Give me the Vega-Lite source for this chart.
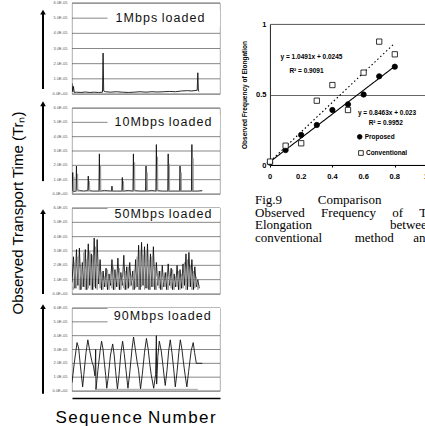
{
"$schema":"https://vega.github.io/schema/vega-lite/v6.json",
"background":"white",
"padding":{"left":10,"top":0,"right":0,"bottom":0},
"config":{"view":{"stroke":"#999","strokeWidth":0.8},"font":"Liberation Sans"},
"datasets":{
"grid":[{"g":0},{"g":1},{"g":2},{"g":3},{"g":4},{"g":5},{"g":6}],
"ts":[
{"p":"1","k":"a","s":0,"v":0.7},{"p":"1","k":"a","s":0.5,"v":0.15},{"p":"1","k":"a","s":1,"v":0.5},{"p":"1","k":"a","s":1.5,"v":0.1},{"p":"1","k":"a","s":3,"v":0.12},{"p":"1","k":"a","s":6,"v":0.1},{"p":"1","k":"a","s":9,"v":0.13},{"p":"1","k":"a","s":12,"v":0.1},{"p":"1","k":"a","s":15,"v":0.12},{"p":"1","k":"a","s":18,"v":0.1},{"p":"1","k":"a","s":20.6,"v":0.12},{"p":"1","k":"a","s":21,"v":2.7},{"p":"1","k":"a","s":21.4,"v":0.2},{"p":"1","k":"a","s":22.5,"v":0.15},{"p":"1","k":"a","s":26,"v":0.12},{"p":"1","k":"a","s":30,"v":0.15},{"p":"1","k":"a","s":34,"v":0.12},{"p":"1","k":"a","s":38,"v":0.1},{"p":"1","k":"a","s":42,"v":0.12},{"p":"1","k":"a","s":46,"v":0.15},{"p":"1","k":"a","s":50,"v":0.12},{"p":"1","k":"a","s":54,"v":0.15},{"p":"1","k":"a","s":58,"v":0.13},{"p":"1","k":"a","s":62,"v":0.15},{"p":"1","k":"a","s":66,"v":0.17},{"p":"1","k":"a","s":70,"v":0.15},{"p":"1","k":"a","s":74,"v":0.2},{"p":"1","k":"a","s":78,"v":0.22},{"p":"1","k":"a","s":81,"v":0.2},{"p":"1","k":"a","s":84.6,"v":0.25},{"p":"1","k":"a","s":85,"v":1.4},{"p":"1","k":"a","s":85.4,"v":0.2},{"p":"1","k":"a","s":86,"v":0.15},
{"p":"10","k":"a","s":0,"v":0.1},{"p":"10","k":"a","s":0.5,"v":1.5},{"p":"10","k":"a","s":0.8,"v":0.15},{"p":"10","k":"a","s":2.7,"v":0.2},{"p":"10","k":"a","s":3,"v":1.95},{"p":"10","k":"a","s":3.3,"v":0.3},{"p":"10","k":"a","s":5,"v":0.25},{"p":"10","k":"a","s":8,"v":0.2},{"p":"10","k":"a","s":10.7,"v":0.25},{"p":"10","k":"a","s":11,"v":1.25},{"p":"10","k":"a","s":11.3,"v":0.25},{"p":"10","k":"a","s":14,"v":0.2},{"p":"10","k":"a","s":18.2,"v":0.2},{"p":"10","k":"a","s":18.5,"v":2.8},{"p":"10","k":"a","s":18.8,"v":0.2},{"p":"10","k":"a","s":22,"v":0.25},{"p":"10","k":"a","s":26.7,"v":0.2},{"p":"10","k":"a","s":27,"v":0.55},{"p":"10","k":"a","s":27.3,"v":0.2},{"p":"10","k":"a","s":30,"v":0.2},{"p":"10","k":"a","s":33.7,"v":0.2},{"p":"10","k":"a","s":34,"v":1.15},{"p":"10","k":"a","s":34.3,"v":0.2},{"p":"10","k":"a","s":38,"v":0.25},{"p":"10","k":"a","s":41.2,"v":0.2},{"p":"10","k":"a","s":41.5,"v":2.8},{"p":"10","k":"a","s":41.8,"v":0.25},{"p":"10","k":"a","s":46,"v":0.2},{"p":"10","k":"a","s":49.7,"v":0.2},{"p":"10","k":"a","s":50,"v":1.95},{"p":"10","k":"a","s":50.3,"v":0.2},{"p":"10","k":"a","s":54,"v":0.25},{"p":"10","k":"a","s":56.7,"v":0.2},{"p":"10","k":"a","s":57,"v":3.45},{"p":"10","k":"a","s":57.3,"v":0.25},{"p":"10","k":"a","s":61,"v":0.2},{"p":"10","k":"a","s":64.7,"v":0.2},{"p":"10","k":"a","s":65,"v":2.8},{"p":"10","k":"a","s":65.3,"v":0.2},{"p":"10","k":"a","s":69,"v":0.2},{"p":"10","k":"a","s":72.7,"v":0.2},{"p":"10","k":"a","s":73,"v":1.95},{"p":"10","k":"a","s":73.3,"v":0.2},{"p":"10","k":"a","s":77,"v":0.2},{"p":"10","k":"a","s":80.7,"v":0.2},{"p":"10","k":"a","s":81,"v":3.45},{"p":"10","k":"a","s":81.3,"v":0.2},{"p":"10","k":"a","s":85,"v":0.2},{"p":"10","k":"a","s":88,"v":0.25},
{"p":"10","k":"b","s":0,"v":0.15},{"p":"10","k":"b","s":1.1,"v":0.2},{"p":"10","k":"b","s":1.3,"v":1.2},{"p":"10","k":"b","s":1.5,"v":0.2},{"p":"10","k":"b","s":3.6,"v":0.2},{"p":"10","k":"b","s":3.8,"v":1.4},{"p":"10","k":"b","s":4,"v":0.2},{"p":"10","k":"b","s":11.6,"v":0.2},{"p":"10","k":"b","s":11.8,"v":0.9},{"p":"10","k":"b","s":12,"v":0.2},{"p":"10","k":"b","s":19.1,"v":0.2},{"p":"10","k":"b","s":19.3,"v":2.0},{"p":"10","k":"b","s":19.5,"v":0.2},{"p":"10","k":"b","s":34.6,"v":0.2},{"p":"10","k":"b","s":34.8,"v":0.9},{"p":"10","k":"b","s":35,"v":0.2},{"p":"10","k":"b","s":42.1,"v":0.2},{"p":"10","k":"b","s":42.3,"v":2.2},{"p":"10","k":"b","s":42.5,"v":0.2},{"p":"10","k":"b","s":50.6,"v":0.2},{"p":"10","k":"b","s":50.8,"v":1.5},{"p":"10","k":"b","s":51,"v":0.2},{"p":"10","k":"b","s":57.6,"v":0.2},{"p":"10","k":"b","s":57.8,"v":2.6},{"p":"10","k":"b","s":58,"v":0.2},{"p":"10","k":"b","s":65.6,"v":0.2},{"p":"10","k":"b","s":65.8,"v":2.1},{"p":"10","k":"b","s":66,"v":0.2},{"p":"10","k":"b","s":73.6,"v":0.2},{"p":"10","k":"b","s":73.8,"v":1.5},{"p":"10","k":"b","s":74,"v":0.2},{"p":"10","k":"b","s":81.6,"v":0.2},{"p":"10","k":"b","s":81.8,"v":2.5},{"p":"10","k":"b","s":82,"v":0.2},{"p":"10","k":"b","s":88,"v":0.2},
{"p":"50","k":"a","s":0,"v":0.8},{"p":"50","k":"a","s":1,"v":2.6},{"p":"50","k":"a","s":2,"v":0.4},{"p":"50","k":"a","s":3,"v":3.1},{"p":"50","k":"a","s":4,"v":0.6},{"p":"50","k":"a","s":5,"v":3.2},{"p":"50","k":"a","s":6,"v":0.3},{"p":"50","k":"a","s":7,"v":2.2},{"p":"50","k":"a","s":8,"v":0.5},{"p":"50","k":"a","s":9,"v":3.1},{"p":"50","k":"a","s":10,"v":0.3},{"p":"50","k":"a","s":11,"v":3.5},{"p":"50","k":"a","s":12,"v":0.6},{"p":"50","k":"a","s":13,"v":2.8},{"p":"50","k":"a","s":14,"v":0.3},{"p":"50","k":"a","s":15,"v":3.9},{"p":"50","k":"a","s":16,"v":0.4},{"p":"50","k":"a","s":17,"v":3.8},{"p":"50","k":"a","s":18,"v":0.7},{"p":"50","k":"a","s":19,"v":2.4},{"p":"50","k":"a","s":20,"v":0.3},{"p":"50","k":"a","s":21,"v":1.6},{"p":"50","k":"a","s":22,"v":0.5},{"p":"50","k":"a","s":23,"v":1.8},{"p":"50","k":"a","s":24,"v":0.3},{"p":"50","k":"a","s":25,"v":1.4},{"p":"50","k":"a","s":26,"v":0.6},{"p":"50","k":"a","s":27,"v":2.4},{"p":"50","k":"a","s":28,"v":0.3},{"p":"50","k":"a","s":29,"v":1.7},{"p":"50","k":"a","s":30,"v":0.5},{"p":"50","k":"a","s":31,"v":2.5},{"p":"50","k":"a","s":32,"v":0.3},{"p":"50","k":"a","s":33,"v":1.5},{"p":"50","k":"a","s":34,"v":0.6},{"p":"50","k":"a","s":35,"v":2.7},{"p":"50","k":"a","s":36,"v":0.3},{"p":"50","k":"a","s":37,"v":1.9},{"p":"50","k":"a","s":38,"v":0.4},{"p":"50","k":"a","s":39,"v":2.2},{"p":"50","k":"a","s":40,"v":0.6},{"p":"50","k":"a","s":41,"v":1.6},{"p":"50","k":"a","s":42,"v":0.3},{"p":"50","k":"a","s":43,"v":2.4},{"p":"50","k":"a","s":44,"v":0.5},{"p":"50","k":"a","s":45,"v":3.4},{"p":"50","k":"a","s":46,"v":0.3},{"p":"50","k":"a","s":47,"v":3.6},{"p":"50","k":"a","s":48,"v":0.6},{"p":"50","k":"a","s":49,"v":3.3},{"p":"50","k":"a","s":50,"v":0.4},{"p":"50","k":"a","s":51,"v":3.5},{"p":"50","k":"a","s":52,"v":0.3},{"p":"50","k":"a","s":53,"v":2.8},{"p":"50","k":"a","s":54,"v":0.5},{"p":"50","k":"a","s":55,"v":3.3},{"p":"50","k":"a","s":56,"v":0.3},{"p":"50","k":"a","s":57,"v":2.2},{"p":"50","k":"a","s":58,"v":0.6},{"p":"50","k":"a","s":59,"v":1.6},{"p":"50","k":"a","s":60,"v":0.3},{"p":"50","k":"a","s":61,"v":2.0},{"p":"50","k":"a","s":62,"v":0.5},{"p":"50","k":"a","s":63,"v":1.5},{"p":"50","k":"a","s":64,"v":0.3},{"p":"50","k":"a","s":65,"v":2.1},{"p":"50","k":"a","s":66,"v":0.6},{"p":"50","k":"a","s":67,"v":1.8},{"p":"50","k":"a","s":68,"v":0.3},{"p":"50","k":"a","s":69,"v":1.4},{"p":"50","k":"a","s":70,"v":0.5},{"p":"50","k":"a","s":71,"v":2.0},{"p":"50","k":"a","s":72,"v":0.3},{"p":"50","k":"a","s":73,"v":1.7},{"p":"50","k":"a","s":74,"v":0.4},{"p":"50","k":"a","s":75,"v":2.1},{"p":"50","k":"a","s":76,"v":0.6},{"p":"50","k":"a","s":77,"v":2.8},{"p":"50","k":"a","s":78,"v":0.3},{"p":"50","k":"a","s":79,"v":2.9},{"p":"50","k":"a","s":80,"v":0.5},{"p":"50","k":"a","s":81,"v":2.4},{"p":"50","k":"a","s":82,"v":0.3},{"p":"50","k":"a","s":83,"v":1.9},{"p":"50","k":"a","s":84,"v":0.5},{"p":"50","k":"a","s":85,"v":1.0},{"p":"50","k":"a","s":86,"v":0.4},
{"p":"50","k":"b","s":0,"v":0.5},{"p":"50","k":"b","s":1,"v":0.3},{"p":"50","k":"b","s":2,"v":2.2},{"p":"50","k":"b","s":3,"v":0.4},{"p":"50","k":"b","s":4,"v":2.6},{"p":"50","k":"b","s":5,"v":0.3},{"p":"50","k":"b","s":6,"v":1.8},{"p":"50","k":"b","s":7,"v":0.5},{"p":"50","k":"b","s":8,"v":2.9},{"p":"50","k":"b","s":9,"v":0.3},{"p":"50","k":"b","s":10,"v":2.4},{"p":"50","k":"b","s":11,"v":0.4},{"p":"50","k":"b","s":12,"v":3.0},{"p":"50","k":"b","s":13,"v":0.3},{"p":"50","k":"b","s":14,"v":2.7},{"p":"50","k":"b","s":15,"v":0.5},{"p":"50","k":"b","s":16,"v":3.3},{"p":"50","k":"b","s":17,"v":0.3},{"p":"50","k":"b","s":18,"v":2.0},{"p":"50","k":"b","s":19,"v":0.4},{"p":"50","k":"b","s":20,"v":1.5},{"p":"50","k":"b","s":21,"v":0.3},{"p":"50","k":"b","s":22,"v":1.2},{"p":"50","k":"b","s":23,"v":0.5},{"p":"50","k":"b","s":24,"v":1.7},{"p":"50","k":"b","s":25,"v":0.3},{"p":"50","k":"b","s":26,"v":1.3},{"p":"50","k":"b","s":27,"v":0.4},{"p":"50","k":"b","s":28,"v":1.9},{"p":"50","k":"b","s":29,"v":0.3},{"p":"50","k":"b","s":30,"v":1.4},{"p":"50","k":"b","s":31,"v":0.5},{"p":"50","k":"b","s":32,"v":1.8},{"p":"50","k":"b","s":33,"v":0.3},{"p":"50","k":"b","s":34,"v":1.2},{"p":"50","k":"b","s":35,"v":0.4},{"p":"50","k":"b","s":36,"v":1.6},{"p":"50","k":"b","s":37,"v":0.3},{"p":"50","k":"b","s":38,"v":1.9},{"p":"50","k":"b","s":39,"v":0.5},{"p":"50","k":"b","s":40,"v":1.3},{"p":"50","k":"b","s":41,"v":0.3},{"p":"50","k":"b","s":42,"v":1.7},{"p":"50","k":"b","s":43,"v":0.4},{"p":"50","k":"b","s":44,"v":2.6},{"p":"50","k":"b","s":45,"v":0.3},{"p":"50","k":"b","s":46,"v":3.0},{"p":"50","k":"b","s":47,"v":0.5},{"p":"50","k":"b","s":48,"v":2.7},{"p":"50","k":"b","s":49,"v":0.3},{"p":"50","k":"b","s":50,"v":2.9},{"p":"50","k":"b","s":51,"v":0.4},{"p":"50","k":"b","s":52,"v":2.4},{"p":"50","k":"b","s":53,"v":0.3},{"p":"50","k":"b","s":54,"v":2.6},{"p":"50","k":"b","s":55,"v":0.5},{"p":"50","k":"b","s":56,"v":1.7},{"p":"50","k":"b","s":57,"v":0.3},{"p":"50","k":"b","s":58,"v":1.3},{"p":"50","k":"b","s":59,"v":0.4},{"p":"50","k":"b","s":60,"v":1.6},{"p":"50","k":"b","s":61,"v":0.3},{"p":"50","k":"b","s":62,"v":1.2},{"p":"50","k":"b","s":63,"v":0.5},{"p":"50","k":"b","s":64,"v":1.5},{"p":"50","k":"b","s":65,"v":0.3},{"p":"50","k":"b","s":66,"v":1.3},{"p":"50","k":"b","s":67,"v":0.4},{"p":"50","k":"b","s":68,"v":1.7},{"p":"50","k":"b","s":69,"v":0.3},{"p":"50","k":"b","s":70,"v":1.2},{"p":"50","k":"b","s":71,"v":0.5},{"p":"50","k":"b","s":72,"v":1.6},{"p":"50","k":"b","s":73,"v":0.3},{"p":"50","k":"b","s":74,"v":1.4},{"p":"50","k":"b","s":75,"v":0.4},{"p":"50","k":"b","s":76,"v":2.2},{"p":"50","k":"b","s":77,"v":0.3},{"p":"50","k":"b","s":78,"v":2.4},{"p":"50","k":"b","s":79,"v":0.5},{"p":"50","k":"b","s":80,"v":2.0},{"p":"50","k":"b","s":81,"v":0.3},{"p":"50","k":"b","s":82,"v":1.6},{"p":"50","k":"b","s":83,"v":0.4},{"p":"50","k":"b","s":84,"v":1.2},{"p":"50","k":"b","s":85,"v":0.3},{"p":"50","k":"b","s":86,"v":0.6},
{"p":"90","k":"a","s":0,"v":0.6},{"p":"90","k":"a","s":1.5,"v":2.0},{"p":"90","k":"a","s":3.4,"v":3.5},{"p":"90","k":"a","s":4.5,"v":3.1},{"p":"90","k":"a","s":5.5,"v":2.0},{"p":"90","k":"a","s":6.3,"v":1.2},{"p":"90","k":"a","s":7.2,"v":0.3},{"p":"90","k":"a","s":8,"v":1.2},{"p":"90","k":"a","s":9.5,"v":2.8},{"p":"90","k":"a","s":10.7,"v":3.7},{"p":"90","k":"a","s":12,"v":2.9},{"p":"90","k":"a","s":13.5,"v":2.1},{"p":"90","k":"a","s":14.5,"v":1.8},{"p":"90","k":"a","s":15.5,"v":1.1},{"p":"90","k":"a","s":16,"v":3.0},{"p":"90","k":"a","s":16.2,"v":0.1},{"p":"90","k":"a","s":17.5,"v":1.5},{"p":"90","k":"a","s":19,"v":2.9},{"p":"90","k":"a","s":20,"v":3.6},{"p":"90","k":"a","s":21,"v":3.0},{"p":"90","k":"a","s":22,"v":1.9},{"p":"90","k":"a","s":22.8,"v":1.1},{"p":"90","k":"a","s":23.5,"v":0.2},{"p":"90","k":"a","s":24.5,"v":1.0},{"p":"90","k":"a","s":26,"v":2.6},{"p":"90","k":"a","s":27.5,"v":3.4},{"p":"90","k":"a","s":28.5,"v":2.6},{"p":"90","k":"a","s":29.5,"v":1.4},{"p":"90","k":"a","s":30.7,"v":0.15},{"p":"90","k":"a","s":31.8,"v":1.2},{"p":"90","k":"a","s":33,"v":2.7},{"p":"90","k":"a","s":34.2,"v":3.6},{"p":"90","k":"a","s":35.3,"v":2.7},{"p":"90","k":"a","s":36.5,"v":1.5},{"p":"90","k":"a","s":37.8,"v":0.2},{"p":"90","k":"a","s":39,"v":1.3},{"p":"90","k":"a","s":40.5,"v":3.0},{"p":"90","k":"a","s":41.6,"v":3.9},{"p":"90","k":"a","s":42.8,"v":3.0},{"p":"90","k":"a","s":44,"v":2.1},{"p":"90","k":"a","s":45,"v":1.5},{"p":"90","k":"a","s":46.3,"v":0.15},{"p":"90","k":"a","s":47.5,"v":1.2},{"p":"90","k":"a","s":49,"v":2.8},{"p":"90","k":"a","s":50.3,"v":3.8},{"p":"90","k":"a","s":51.5,"v":3.0},{"p":"90","k":"a","s":52.5,"v":2.0},{"p":"90","k":"a","s":53.5,"v":1.2},{"p":"90","k":"a","s":55.2,"v":0.2},{"p":"90","k":"a","s":56.5,"v":1.2},{"p":"90","k":"a","s":57,"v":4.0},{"p":"90","k":"a","s":57.2,"v":0.5},{"p":"90","k":"a","s":58,"v":2.5},{"p":"90","k":"a","s":59,"v":3.6},{"p":"90","k":"a","s":60.3,"v":2.9},{"p":"90","k":"a","s":61.5,"v":1.8},{"p":"90","k":"a","s":62.3,"v":1.0},{"p":"90","k":"a","s":63,"v":0.4},{"p":"90","k":"a","s":64.2,"v":1.5},{"p":"90","k":"a","s":65.3,"v":2.9},{"p":"90","k":"a","s":66.4,"v":3.7},{"p":"90","k":"a","s":67.5,"v":2.8},{"p":"90","k":"a","s":68.7,"v":1.6},{"p":"90","k":"a","s":69.8,"v":0.3},{"p":"90","k":"a","s":71,"v":1.4},{"p":"90","k":"a","s":72.2,"v":2.8},{"p":"90","k":"a","s":73.2,"v":3.7},{"p":"90","k":"a","s":74.3,"v":3.0},{"p":"90","k":"a","s":75.5,"v":1.9},{"p":"90","k":"a","s":76.5,"v":1.1},{"p":"90","k":"a","s":77.6,"v":0.3},{"p":"90","k":"a","s":78.8,"v":1.4},{"p":"90","k":"a","s":80.5,"v":2.9},{"p":"90","k":"a","s":81.9,"v":3.5},{"p":"90","k":"a","s":82.8,"v":2.8},{"p":"90","k":"a","s":84,"v":2.0},{"p":"90","k":"a","s":86,"v":2.0},{"p":"90","k":"a","s":88,"v":2.0},
{"p":"90","k":"b","s":16,"v":0.12},{"p":"90","k":"b","s":85,"v":0.12}
],
"sc":[
{"m":"Proposed","x":0,"y":0.017},{"m":"Proposed","x":0.1,"y":0.106},{"m":"Proposed","x":0.2,"y":0.213},{"m":"Proposed","x":0.3,"y":0.284},{"m":"Proposed","x":0.4,"y":0.39},{"m":"Proposed","x":0.5,"y":0.43},{"m":"Proposed","x":0.6,"y":0.5},{"m":"Proposed","x":0.7,"y":0.629},{"m":"Proposed","x":0.8,"y":0.697},
{"m":"Conventional","x":0,"y":0.024},{"m":"Conventional","x":0.1,"y":0.137},{"m":"Conventional","x":0.2,"y":0.154},{"m":"Conventional","x":0.3,"y":0.456},{"m":"Conventional","x":0.4,"y":0.567},{"m":"Conventional","x":0.5,"y":0.39},{"m":"Conventional","x":0.6,"y":0.655},{"m":"Conventional","x":0.7,"y":0.875},{"m":"Conventional","x":0.8,"y":0.785}
],
"lg":[{"m":"Proposed","x":0.575,"y":0.2},{"m":"Conventional","x":0.583,"y":0.085}],
"fit":[
{"m":"Proposed","x":0,"y":0.023},{"m":"Proposed","x":0.8,"y":0.7},
{"m":"Conventional","x":0,"y":0.0245},{"m":"Conventional","x":0.8,"y":0.864}
],
"eq":[
{"x":0.266,"y":0.764,"t":"y = 1.0491x + 0.0245"},
{"x":0.234,"y":0.669,"t":"R² = 0.9091"},
{"x":0.75,"y":0.371,"t":"y = 0.8463x + 0.023"},
{"x":0.742,"y":0.3,"t":"R² = 0.9952"}
]
},
"spacing":20,
"hconcat":[
{"title":{"text":"Observed Transport Time (Trₙ)","orient":"left","fontSize":15,"fontWeight":"normal","font":"Liberation Sans","offset":14,"anchor":"middle","color":"black"},
"spacing":14,"bounds":"flush",
"vconcat":[
{"width":148,"height":91,
"layer":[
{"data":{"name":"grid"},"mark":{"type":"rule","color":"#555","strokeWidth":0.7},
"encoding":{"y":{"field":"g","type":"quantitative","scale":{"domain":[0,6]},"axis":{"labels":false,"grid":false,"ticks":false,"domain":false,"title":null}}}},
{"data":{"name":"ts"},"transform":[{"filter":"datum.p=='1'"}],"mark":{"type":"line","strokeWidth":0.9,"clip":true},
"encoding":{"x":{"field":"s","type":"quantitative","scale":{"domain":[0,100]},"axis":null},"y":{"field":"v","type":"quantitative"},
"color":{"field":"k","type":"nominal","scale":{"domain":["a","b"],"range":["#111","#9a9a9a"]},"legend":null}}},
{"data":{"values":[{}]},"mark":{"type":"rect","color":"white","clip":true},"encoding":{"x":{"datum":24},"x2":{"datum":100},"y":{"datum":4.45},"y2":{"datum":5.55}}},
{"data":{"values":[{}]},"mark":{"type":"text","fontSize":12.5,"color":"#111"},"encoding":{"x":{"datum":59.5},"y":{"datum":5},"text":{"value":"1\u200aM\u200ab\u200ap\u200as\u00a0\u200al\u200ao\u200aa\u200ad\u200ae\u200ad"}}},
{"data":{"values":[{}]},"mark":{"type":"rule","color":"black","strokeWidth":2},"encoding":{"x":{"datum":-19.6},"y":{"datum":0.33},"y2":{"datum":5.3}}},
{"data":{"values":[{}]},"mark":{"type":"point","shape":"triangle-up","filled":true,"color":"black","size":32,"opacity":1},"encoding":{"x":{"datum":-19.6},"y":{"datum":5.4}}},
{"data":{"values":[{}]},"mark":{"type":"text","align":"right","baseline":"middle","fontSize":4,"color":"#555"},"encoding":{"x":{"datum":-3},"y":{"datum":0},"text":{"value":"0.0E+00"}}},
{"data":{"values":[{}]},"mark":{"type":"text","align":"right","baseline":"middle","fontSize":4,"color":"#555"},"encoding":{"x":{"datum":-3},"y":{"datum":1},"text":{"value":"1.0E-05"}}},
{"data":{"values":[{}]},"mark":{"type":"text","align":"right","baseline":"middle","fontSize":4,"color":"#555"},"encoding":{"x":{"datum":-3},"y":{"datum":2},"text":{"value":"2.0E-05"}}},
{"data":{"values":[{}]},"mark":{"type":"text","align":"right","baseline":"middle","fontSize":4,"color":"#555"},"encoding":{"x":{"datum":-3},"y":{"datum":3},"text":{"value":"3.0E-05"}}},
{"data":{"values":[{}]},"mark":{"type":"text","align":"right","baseline":"middle","fontSize":4,"color":"#555"},"encoding":{"x":{"datum":-3},"y":{"datum":4},"text":{"value":"4.0E-05"}}},
{"data":{"values":[{}]},"mark":{"type":"text","align":"right","baseline":"middle","fontSize":4,"color":"#555"},"encoding":{"x":{"datum":-3},"y":{"datum":5},"text":{"value":"5.0E-05"}}},
{"data":{"values":[{}]},"mark":{"type":"text","align":"right","baseline":"middle","fontSize":4,"color":"#555"},"encoding":{"x":{"datum":-3},"y":{"datum":6},"text":{"value":"6.0E-05"}}}
]},
{"width":148,"height":86,
"layer":[
{"data":{"name":"grid"},"mark":{"type":"rule","color":"#555","strokeWidth":0.7},
"encoding":{"y":{"field":"g","type":"quantitative","scale":{"domain":[0,6]},"axis":{"labels":false,"grid":false,"ticks":false,"domain":false,"title":null}}}},
{"data":{"name":"ts"},"transform":[{"filter":"datum.p=='10'"}],"mark":{"type":"line","strokeWidth":0.9,"clip":true},
"encoding":{"x":{"field":"s","type":"quantitative","scale":{"domain":[0,100]},"axis":null},"y":{"field":"v","type":"quantitative"},
"color":{"field":"k","type":"nominal","scale":{"domain":["a","b"],"range":["#111","#9a9a9a"]},"legend":null}}},
{"data":{"values":[{}]},"mark":{"type":"rect","color":"white","clip":true},"encoding":{"x":{"datum":24},"x2":{"datum":100},"y":{"datum":4.45},"y2":{"datum":5.55}}},
{"data":{"values":[{}]},"mark":{"type":"text","fontSize":12.5,"color":"#111"},"encoding":{"x":{"datum":61.5},"y":{"datum":5},"text":{"value":"1\u200a0\u200aM\u200ab\u200ap\u200as\u00a0\u200al\u200ao\u200aa\u200ad\u200ae\u200ad"}}},
{"data":{"values":[{}]},"mark":{"type":"rule","color":"black","strokeWidth":2},"encoding":{"x":{"datum":-19.6},"y":{"datum":0.9},"y2":{"datum":6.2}}},
{"data":{"values":[{}]},"mark":{"type":"point","shape":"triangle-up","filled":true,"color":"black","size":32,"opacity":1},"encoding":{"x":{"datum":-19.6},"y":{"datum":6.3}}},
{"data":{"values":[{}]},"mark":{"type":"text","align":"right","baseline":"middle","fontSize":4,"color":"#555"},"encoding":{"x":{"datum":-3},"y":{"datum":0},"text":{"value":"0.0E+00"}}},
{"data":{"values":[{}]},"mark":{"type":"text","align":"right","baseline":"middle","fontSize":4,"color":"#555"},"encoding":{"x":{"datum":-3},"y":{"datum":1},"text":{"value":"1.0E-05"}}},
{"data":{"values":[{}]},"mark":{"type":"text","align":"right","baseline":"middle","fontSize":4,"color":"#555"},"encoding":{"x":{"datum":-3},"y":{"datum":2},"text":{"value":"2.0E-05"}}},
{"data":{"values":[{}]},"mark":{"type":"text","align":"right","baseline":"middle","fontSize":4,"color":"#555"},"encoding":{"x":{"datum":-3},"y":{"datum":3},"text":{"value":"3.0E-05"}}},
{"data":{"values":[{}]},"mark":{"type":"text","align":"right","baseline":"middle","fontSize":4,"color":"#555"},"encoding":{"x":{"datum":-3},"y":{"datum":4},"text":{"value":"4.0E-05"}}},
{"data":{"values":[{}]},"mark":{"type":"text","align":"right","baseline":"middle","fontSize":4,"color":"#555"},"encoding":{"x":{"datum":-3},"y":{"datum":5},"text":{"value":"5.0E-05"}}},
{"data":{"values":[{}]},"mark":{"type":"text","align":"right","baseline":"middle","fontSize":4,"color":"#555"},"encoding":{"x":{"datum":-3},"y":{"datum":6},"text":{"value":"6.0E-05"}}}
]},
{"width":148,"height":86,
"layer":[
{"data":{"name":"grid"},"mark":{"type":"rule","color":"#555","strokeWidth":0.7},
"encoding":{"y":{"field":"g","type":"quantitative","scale":{"domain":[0,6]},"axis":{"labels":false,"grid":false,"ticks":false,"domain":false,"title":null}}}},
{"data":{"name":"ts"},"transform":[{"filter":"datum.p=='50'"}],"mark":{"type":"line","strokeWidth":0.9,"clip":true},
"encoding":{"x":{"field":"s","type":"quantitative","scale":{"domain":[0,100]},"axis":null},"y":{"field":"v","type":"quantitative"},
"color":{"field":"k","type":"nominal","scale":{"domain":["a","b"],"range":["#111","#9a9a9a"]},"legend":null}}},
{"data":{"values":[{}]},"mark":{"type":"rect","color":"white","clip":true},"encoding":{"x":{"datum":24},"x2":{"datum":100},"y":{"datum":5.15},"y2":{"datum":6.3}}},
{"data":{"values":[{}]},"mark":{"type":"text","fontSize":12.5,"color":"#111"},"encoding":{"x":{"datum":61.5},"y":{"datum":5.55},"text":{"value":"5\u200a0\u200aM\u200ab\u200ap\u200as\u00a0\u200al\u200ao\u200aa\u200ad\u200ae\u200ad"}}},
{"data":{"values":[{}]},"mark":{"type":"rule","color":"black","strokeWidth":2},"encoding":{"x":{"datum":-19.6},"y":{"datum":0},"y2":{"datum":5.6}}},
{"data":{"values":[{}]},"mark":{"type":"point","shape":"triangle-up","filled":true,"color":"black","size":32,"opacity":1},"encoding":{"x":{"datum":-19.6},"y":{"datum":5.75}}},
{"data":{"values":[{}]},"mark":{"type":"text","align":"right","baseline":"middle","fontSize":4,"color":"#555"},"encoding":{"x":{"datum":-3},"y":{"datum":0},"text":{"value":"0.0E+00"}}},
{"data":{"values":[{}]},"mark":{"type":"text","align":"right","baseline":"middle","fontSize":4,"color":"#555"},"encoding":{"x":{"datum":-3},"y":{"datum":1},"text":{"value":"1.0E-05"}}},
{"data":{"values":[{}]},"mark":{"type":"text","align":"right","baseline":"middle","fontSize":4,"color":"#555"},"encoding":{"x":{"datum":-3},"y":{"datum":2},"text":{"value":"2.0E-05"}}},
{"data":{"values":[{}]},"mark":{"type":"text","align":"right","baseline":"middle","fontSize":4,"color":"#555"},"encoding":{"x":{"datum":-3},"y":{"datum":3},"text":{"value":"3.0E-05"}}},
{"data":{"values":[{}]},"mark":{"type":"text","align":"right","baseline":"middle","fontSize":4,"color":"#555"},"encoding":{"x":{"datum":-3},"y":{"datum":4},"text":{"value":"4.0E-05"}}},
{"data":{"values":[{}]},"mark":{"type":"text","align":"right","baseline":"middle","fontSize":4,"color":"#555"},"encoding":{"x":{"datum":-3},"y":{"datum":5},"text":{"value":"5.0E-05"}}},
{"data":{"values":[{}]},"mark":{"type":"text","align":"right","baseline":"middle","fontSize":4,"color":"#555"},"encoding":{"x":{"datum":-3},"y":{"datum":6},"text":{"value":"6.0E-05"}}}
]},
{"width":148,"height":83,
"layer":[
{"data":{"name":"grid"},"mark":{"type":"rule","color":"#555","strokeWidth":0.7},
"encoding":{"y":{"field":"g","type":"quantitative","scale":{"domain":[0,6]},"axis":{"labels":false,"grid":false,"ticks":false,"domain":false,"title":null}}}},
{"data":{"name":"ts"},"transform":[{"filter":"datum.p=='90'"}],"mark":{"type":"line","strokeWidth":0.9,"clip":true},
"encoding":{"x":{"field":"s","type":"quantitative","scale":{"domain":[0,100]},"axis":{"domain":true,"domainColor":"black","domainWidth":1.5,"offset":7,"labels":false,"ticks":false,"grid":false,"title":"S\u200ae\u200aq\u200au\u200ae\u200an\u200ac\u200ae\u00a0\u200aN\u200au\u200am\u200ab\u200ae\u200ar","titleFontSize":17,"titleFontWeight":"normal","titleColor":"black","titleX":63,"titleY":24,"titleAlign":"center","titleBaseline":"alphabetic"}},"y":{"field":"v","type":"quantitative"},
"color":{"field":"k","type":"nominal","scale":{"domain":["a","b"],"range":["#111","#9a9a9a"]},"legend":null}}},
{"data":{"values":[{}]},"mark":{"type":"rect","color":"white","clip":true},"encoding":{"x":{"datum":24},"x2":{"datum":100},"y":{"datum":4.85},"y2":{"datum":6.3}}},
{"data":{"values":[{}]},"mark":{"type":"text","fontSize":12.5,"color":"#111"},"encoding":{"x":{"datum":61},"y":{"datum":5.4},"text":{"value":"9\u200a0\u200aM\u200ab\u200ap\u200as\u00a0\u200al\u200ao\u200aa\u200ad\u200ae\u200ad"}}},
{"data":{"values":[{}]},"mark":{"type":"rule","color":"black","strokeWidth":2},"encoding":{"x":{"datum":-19.6},"y":{"datum":-0.2},"y2":{"datum":6.0}}},
{"data":{"values":[{}]},"mark":{"type":"point","shape":"triangle-up","filled":true,"color":"black","size":32,"opacity":1},"encoding":{"x":{"datum":-19.6},"y":{"datum":6.1}}},
{"data":{"values":[{}]},"mark":{"type":"text","align":"right","baseline":"middle","fontSize":4,"color":"#555"},"encoding":{"x":{"datum":-3},"y":{"datum":0},"text":{"value":"0.0E+00"}}},
{"data":{"values":[{}]},"mark":{"type":"text","align":"right","baseline":"middle","fontSize":4,"color":"#555"},"encoding":{"x":{"datum":-3},"y":{"datum":1},"text":{"value":"1.0E-05"}}},
{"data":{"values":[{}]},"mark":{"type":"text","align":"right","baseline":"middle","fontSize":4,"color":"#555"},"encoding":{"x":{"datum":-3},"y":{"datum":2},"text":{"value":"2.0E-05"}}},
{"data":{"values":[{}]},"mark":{"type":"text","align":"right","baseline":"middle","fontSize":4,"color":"#555"},"encoding":{"x":{"datum":-3},"y":{"datum":3},"text":{"value":"3.0E-05"}}},
{"data":{"values":[{}]},"mark":{"type":"text","align":"right","baseline":"middle","fontSize":4,"color":"#555"},"encoding":{"x":{"datum":-3},"y":{"datum":4},"text":{"value":"4.0E-05"}}},
{"data":{"values":[{}]},"mark":{"type":"text","align":"right","baseline":"middle","fontSize":4,"color":"#555"},"encoding":{"x":{"datum":-3},"y":{"datum":5},"text":{"value":"5.0E-05"}}},
{"data":{"values":[{}]},"mark":{"type":"text","align":"right","baseline":"middle","fontSize":4,"color":"#555"},"encoding":{"x":{"datum":-3},"y":{"datum":6},"text":{"value":"6.0E-05"}}}
]}
]},
{"spacing":14,
"vconcat":[
{"width":156,"height":2,"data":{"values":[{}]},"mark":{"type":"rule","opacity":0},"encoding":{},"view":{"stroke":null}},
{"width":156,"height":141,
"title":{"text":["Fig.9\u00a0\u00a0\u00a0\u00a0\u00a0\u00a0\u00a0\u00a0\u00a0\u00a0\u00a0Comparison\u00a0\u00a0\u00a0\u00a0\u00a0\u00a0\u00a0\u00a0\u00a0\u00a0\u00a0\u00a0\u00a0\u00a0of the","Observed\u00a0\u00a0\u00a0\u00a0\u00a0Frequency\u00a0\u00a0\u00a0\u00a0\u00a0of\u00a0\u00a0\u00a0\u00a0\u00a0Transport Time","Elongation\u00a0\u00a0\u00a0\u00a0\u00a0\u00a0\u00a0\u00a0\u00a0\u00a0\u00a0\u00a0\u00a0\u00a0\u00a0\u00a0\u00a0\u00a0\u00a0\u00a0\u00a0\u00a0\u00a0\u00a0between the","conventional\u00a0\u00a0\u00a0\u00a0\u00a0\u00a0\u00a0\u00a0\u00a0\u00a0method\u00a0\u00a0\u00a0\u00a0\u00a0\u00a0and proposed"],"orient":"bottom","anchor":"start","frame":"group","font":"Liberation Serif","fontSize":13,"fontWeight":"normal","lineHeight":12.5,"dx":-15,"offset":14,"color":"black"},
"layer":[
{"data":{"name":"fit"},"mark":{"type":"line","strokeWidth":1.1,"color":"black"},
"encoding":{"x":{"field":"x","type":"quantitative","scale":{"domain":[0,1]},"axis":{"values":[0,0.2,0.4,0.6,0.8,1],"labels":false,"ticks":true,"tickSize":2,"tickColor":"black","domainColor":"black","grid":false,"title":null}},
"y":{"field":"y","type":"quantitative","scale":{"domain":[0,1]},"axis":{"values":[0,0.5,1],"format":"~g","labelFontWeight":"bold","labelFontSize":7.5,"labelColor":"black","grid":true,"gridColor":"#666","ticks":false,"domainColor":"#333","title":"Observed Frequency of Elongation","titleFontSize":6.5,"titleFontWeight":"bold","titleColor":"black","titlePadding":8,"labelPadding":4}},
"strokeDash":{"field":"m","type":"nominal","scale":{"domain":["Proposed","Conventional"],"range":[[1,0],[1.5,2.5]]},"legend":null}}},
{"data":{"name":"sc"},"mark":{"type":"point","filled":true,"stroke":"black","strokeWidth":0.8,"size":28,"opacity":1},
"encoding":{"x":{"field":"x","type":"quantitative"},"y":{"field":"y","type":"quantitative"},
"shape":{"field":"m","type":"nominal","scale":{"domain":["Proposed","Conventional"],"range":["circle","square"]},"legend":null},
"fill":{"field":"m","type":"nominal","scale":{"domain":["Proposed","Conventional"],"range":["black","white"]},"legend":null}}},
{"data":{"name":"lg"},"mark":{"type":"point","filled":true,"stroke":"black","strokeWidth":0.8,"size":22,"opacity":1},
"encoding":{"x":{"field":"x","type":"quantitative"},"y":{"field":"y","type":"quantitative"},
"shape":{"field":"m","type":"nominal","legend":null},"fill":{"field":"m","type":"nominal","legend":null}}},
{"data":{"name":"lg"},"mark":{"type":"text","fontWeight":"bold","fontSize":6.5,"color":"black","align":"left","dx":5},
"encoding":{"x":{"field":"x","type":"quantitative"},"y":{"field":"y","type":"quantitative"},"text":{"field":"m"}}},
{"data":{"name":"eq"},"mark":{"type":"text","fontWeight":"bold","fontSize":6.5,"color":"black"},
"encoding":{"x":{"field":"x","type":"quantitative"},"y":{"field":"y","type":"quantitative"},"text":{"field":"t"}}},
{"data":{"values":[{}]},"mark":{"type":"text","fontWeight":"bold","fontSize":7.5,"color":"black","baseline":"middle"},"encoding":{"x":{"datum":0},"y":{"datum":-0.085},"text":{"value":"0"}}},
{"data":{"values":[{}]},"mark":{"type":"text","fontWeight":"bold","fontSize":7.5,"color":"black","baseline":"middle"},"encoding":{"x":{"datum":0.2},"y":{"datum":-0.085},"text":{"value":"0.2"}}},
{"data":{"values":[{}]},"mark":{"type":"text","fontWeight":"bold","fontSize":7.5,"color":"black","baseline":"middle"},"encoding":{"x":{"datum":0.4},"y":{"datum":-0.085},"text":{"value":"0.4"}}},
{"data":{"values":[{}]},"mark":{"type":"text","fontWeight":"bold","fontSize":7.5,"color":"black","baseline":"middle"},"encoding":{"x":{"datum":0.6},"y":{"datum":-0.085},"text":{"value":"0.6"}}},
{"data":{"values":[{}]},"mark":{"type":"text","fontWeight":"bold","fontSize":7.5,"color":"black","baseline":"middle"},"encoding":{"x":{"datum":0.8},"y":{"datum":-0.085},"text":{"value":"0.8"}}},
{"data":{"values":[{}]},"mark":{"type":"text","fontWeight":"bold","fontSize":7.5,"color":"black","baseline":"middle"},"encoding":{"x":{"datum":1},"y":{"datum":-0.085},"text":{"value":"1"}}}
]}
]}
]
}
